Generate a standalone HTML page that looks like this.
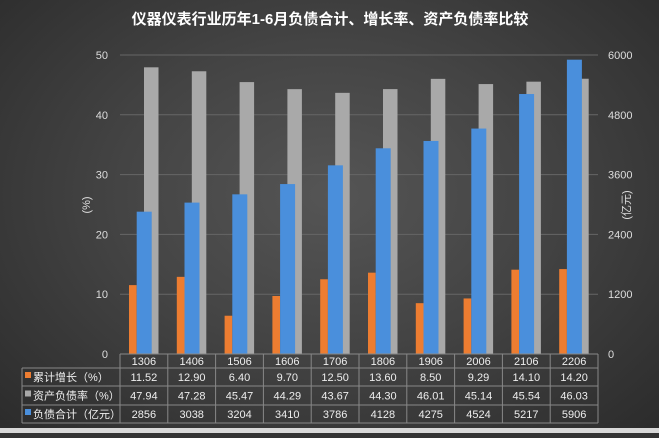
<!DOCTYPE html>
<html><head><meta charset="utf-8"><style>
body{margin:0;width:659px;height:433px;overflow:hidden;background:#333}
#c{position:absolute;left:0;top:0;width:659px;height:433px;background:radial-gradient(ellipse at 50% 45%,#555 0%,#444 45%,#2b2b2b 100%)}
text{font-family:"Liberation Sans","Noto Sans CJK SC",sans-serif}
</style></head><body>
<div id="c">
<svg id="s" width="659" height="433"></svg>
</div>
<script>
const categories=["1306","1406","1506","1606","1706","1806","1906","2006","2106","2206"];
const growth=[11.52,12.90,6.40,9.70,12.50,13.60,8.50,9.29,14.10,14.20];
const ratio=[47.94,47.28,45.47,44.29,43.67,44.30,46.01,45.14,45.54,46.03];
const debt=[2856,3038,3204,3410,3786,4128,4275,4524,5217,5906];
const leftTicks=[0,10,20,30,40,50];
const rightTicks=[0,1200,2400,3600,4800,6000];
const NS="http://www.w3.org/2000/svg";
const s=document.getElementById('s');
const X0=120,X1=598,Y0=354,Y1=55,cw=(X1-X0)/categories.length;
const yl=v=>Y0-(v/50)*(Y0-Y1);
const yr=v=>Y0-(v/6000)*(Y0-Y1);
function el(t,a,txt){const e=document.createElementNS(NS,t);for(const k in a)e.setAttribute(k,a[k]);if(txt!==undefined)e.textContent=txt;s.appendChild(e);return e;}
let t=el('text',{x:330,y:24,'text-anchor':'middle',fill:'#fff','font-size':15,'font-weight':'bold'},'仪器仪表行业历年1-6月负债合计、增长率、资产负债率比较');

leftTicks.forEach((v,i)=>{
 if(v>0){let g=el('line',{x1:X0,x2:X1,y1:yl(v),y2:yl(v),stroke:'#666','stroke-width':1});
 }
 let a=el('text',{x:108,y:yl(v)+4,'text-anchor':'end',fill:'#ddd','font-size':11},v);
 
 let b=el('text',{x:608,y:yr(rightTicks[i])+4,'text-anchor':'start',fill:'#ddd','font-size':11},rightTicks[i]);
 
});
t=el('text',{x:0,y:0,transform:'translate(90,205) rotate(-90)','text-anchor':'middle',fill:'#ddd','font-size':11},'(%)');

t=el('text',{x:0,y:0,transform:'translate(630,205) rotate(-90)','text-anchor':'middle',fill:'#ddd','font-size':11},'(亿元)');

categories.forEach((c,i)=>{
 const x=X0+i*cw;
 let g=el('rect',{x:x+24,y:yl(ratio[i]),width:14.5,height:Y0-yl(ratio[i]),fill:'#a9a9a9'});
 
 let o=el('rect',{x:x+9,y:yl(growth[i]),width:7.7,height:Y0-yl(growth[i]),fill:'#ed7d31'});
 
 let b=el('rect',{x:x+16.7,y:yr(debt[i]),width:15,height:Y0-yr(debt[i]),fill:'#4a8fdc'});
 
});
const rows=[Y0,368,386,405,423];
const lc='#888';
el('line',{x1:X0,x2:X1,y1:Y0,y2:Y0,stroke:lc});
for(let r=1;r<rows.length;r++){el('line',{x1:22,x2:X1,y1:rows[r],y2:rows[r],stroke:lc});}
el('line',{x1:22,x2:22,y1:368,y2:423,stroke:lc});
for(let i=0;i<=categories.length;i++){el('line',{x1:X0+i*cw,x2:X0+i*cw,y1:Y0,y2:423,stroke:lc});}
const series=[["累计增长（%）",growth,'#ed7d31',v=>v.toFixed(2)],["资产负债率（%）",ratio,'#a9a9a9',v=>v.toFixed(2)],["负债合计（亿元）",debt,'#4a8fdc',v=>String(v)]];
categories.forEach((c,i)=>{let h=el('text',{x:X0+(i+.5)*cw,y:365,'text-anchor':'middle',fill:'#eee','font-size':11},c);
 });
series.forEach((sr,r)=>{
 const yc=(rows[r+1]+rows[r+2])/2+4;
 let k=el('rect',{x:25,y:yc-9,width:6,height:6,fill:sr[2]});
 
 let n=el('text',{x:33,y:yc,fill:'#eee','font-size':11},sr[0]);
 
 sr[1].forEach((v,i)=>{let d=el('text',{x:X0+(i+.5)*cw,y:yc,'text-anchor':'middle',fill:'#eee','font-size':11},sr[3](v));
  });
});
let bs=el('rect',{x:0,y:428,width:659,height:5,fill:'#d8d8d8'});

</script>
</body></html>
